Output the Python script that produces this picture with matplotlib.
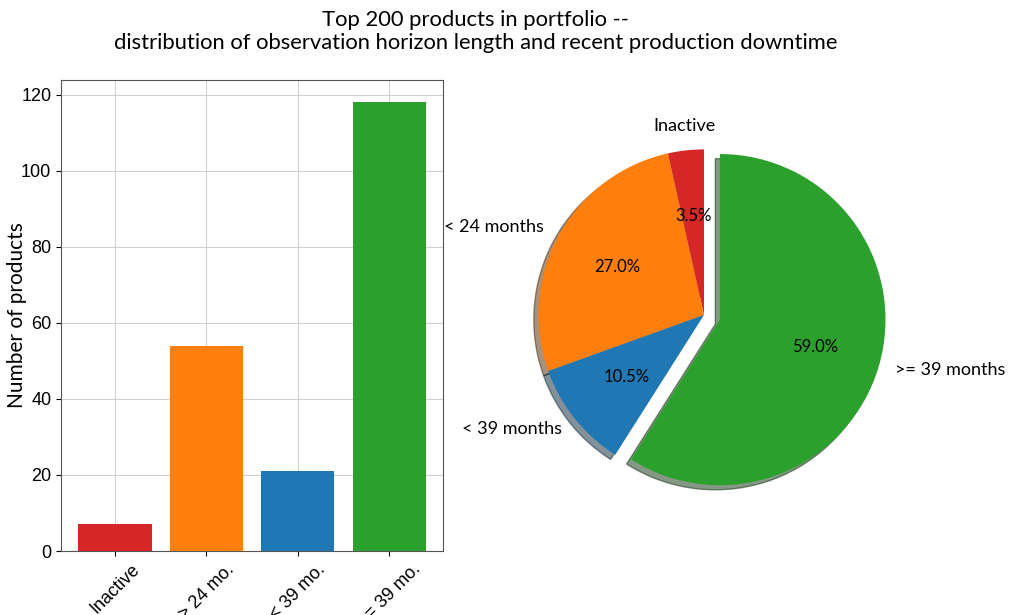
import matplotlib
matplotlib.use("Agg")
from matplotlib import pyplot as plt

bar_labels = ["Inactive", "> 24 mo.", "< 39 mo.", ">= 39 mo."]
bar_counts = [7, 54, 21, 118]
bar_colors = ["tab:red", "tab:orange", "tab:blue", "tab:green"]

pie_labels = ["Inactive", "< 24 months", "< 39 months", ">= 39 months"]
pie_counts = [7, 54, 21, 118]
pie_explode = [0, 0, 0, 0.1]

txt_font = "Lato"
tick_font = "Liberation Sans"

fig = plt.figure(figsize=(10.12, 6.15), dpi=100)

ax1 = fig.add_axes([0.0603, 0.104, 0.3775, 0.766])
ax1.bar(bar_labels, bar_counts, color=bar_colors, zorder=3)
ax1.grid(True, zorder=0, color="#d0d0d0")
ax1.set_axisbelow(True)
ax1.set_ylabel("Number of products", fontsize=15, family=txt_font)
ax1.yaxis.set_label_coords(-0.089, 0.5)
ax1.tick_params(labelsize=13)
for lab in ax1.get_xticklabels() + ax1.get_yticklabels():
    lab.set_family(tick_font)
plt.setp(ax1.get_xticklabels(), rotation=45, ha="center")
for s in ax1.spines.values():
    s.set_color("#555555")

ax2 = fig.add_axes([497 / 1012, (615 - 522) / 615, 414 / 1012, 414 / 615])
wedges, texts, autotexts = ax2.pie(pie_counts, labels=pie_labels, colors=bar_colors,
                                   explode=pie_explode, autopct="%1.1f%%", shadow=True,
                                   startangle=90, textprops={"family": txt_font})
for t in texts:
    t.set_fontsize(13)
texts[0].set_ha("center")
texts[0].set_va("bottom")
for t in autotexts:
    t.set_fontsize(12)
ax2.set_aspect("equal")

fig.suptitle("Top 200 products in portfolio --\n"
             "distribution of observation horizon length and recent production downtime",
             fontsize=15.8, family=txt_font, x=0.47, y=0.983, linespacing=1.15)

plt.savefig("out.png", dpi=100)
